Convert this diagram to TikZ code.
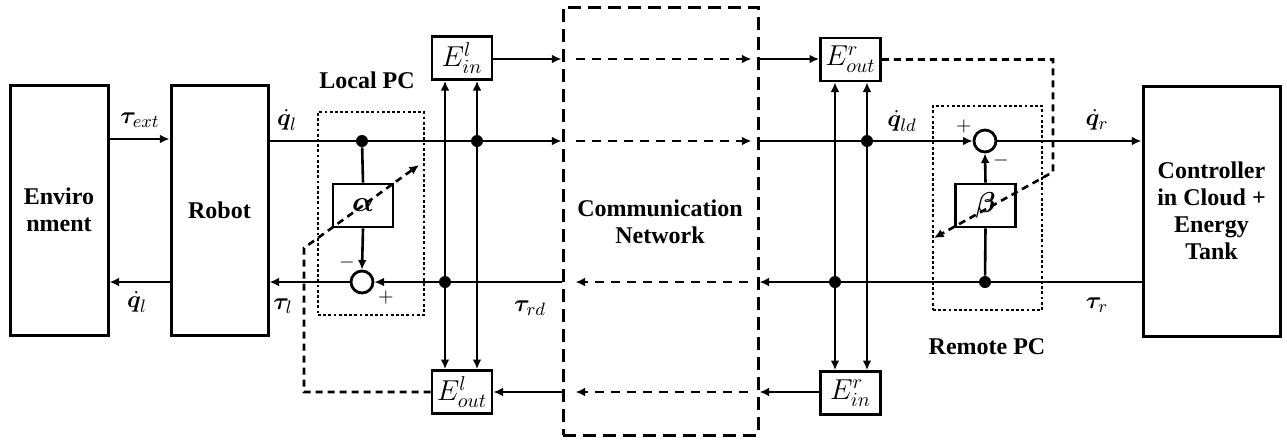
\documentclass[tikz,border=0pt]{standalone}
\usepackage{amsmath,bm}
\usepackage{fontspec}
\setmainfont{Liberation Serif}
\usetikzlibrary{arrows.meta,calc}
\begin{document}
\begin{tikzpicture}[x=0.5pt,y=-0.5pt,
  every node/.style={font=\fontsize{13}{15}\selectfont},
  blk/.style={draw,line width=1.5pt,inner sep=0pt,align=center,font=\fontsize{12}{13.5}\selectfont\bfseries},
  ebox/.style={draw,line width=1.4pt,inner sep=0pt,minimum width=30pt,minimum height=21.5pt,font=\fontsize{14}{16}\selectfont},
  sum/.style={draw,circle,line width=1.4pt,minimum size=11pt,inner sep=0pt},
  dot/.style={circle,fill,inner sep=0pt,minimum size=6pt},
  ln/.style={line width=1.3pt},
  arr/.style={line width=1.3pt,-{Latex[length=4.8pt,width=4.4pt]}},
  darr/.style={line width=1.3pt,{Latex[length=4.8pt,width=4.4pt]}-{Latex[length=4.8pt,width=4.4pt]}},
  netarr/.style={line width=1.3pt,dash pattern=on 4.5pt off 3.5pt,-{Latex[length=4.8pt,width=4.4pt]}},
  adj/.style={line width=1.3pt,dash pattern=on 3.5pt off 2.5pt},
  adjarr/.style={adj,-{Latex[length=4.8pt,width=4.4pt]}},
  pcbox/.style={line width=1.3pt,dash pattern=on 1.4pt off 1.2pt},
  lbl/.style={font=\fontsize{12}{13.5}\selectfont\bfseries},
  sgn/.style={font=\fontsize{10}{12}\selectfont}
]
\useasboundingbox (0,0) rectangle (1287,441);

% row coordinates
\coordinate (rT) at (0,59);
\coordinate (rQ) at (0,141);
\coordinate (rF) at (0,282);
\coordinate (rB) at (0,392);
\coordinate (xL1) at (445,0);
\coordinate (xL2) at (477,0);
\coordinate (xR1) at (835,0);
\coordinate (xR2) at (867,0);

% main blocks
\node[blk,minimum width=49pt,minimum height=125pt] (env) at (59,210) {Enviro\\nment};
\node[blk,minimum width=48.5pt,minimum height=125pt] (robot) at (219.5,210) {Robot};
\node[blk,minimum width=68.5pt,minimum height=125pt] (ctrl) at (1211.5,211) {Controller\\in Cloud +\\Energy\\Tank};

% network
\node[draw,line width=1.5pt,dash pattern=on 6.5pt off 3.5pt,minimum width=97.5pt,minimum height=214pt,inner sep=0pt] (net) at (660.5,221) {};
\node[lbl,align=center] (nettxt) at (660,222) {Communication\\Network};

% PC boxes
\node[draw,pcbox,minimum width=53pt,minimum height=101.5pt,inner sep=0pt] (pcL) at (371,213.5) {};
\node[draw,pcbox,minimum width=54.5pt,minimum height=102pt,inner sep=0pt] (pcR) at (987.5,208) {};
\node[lbl] (pcLt) at (367,80) {Local PC};
\node[lbl] (pcRt) at (987,347) {Remote PC};

% energy boxes
\node[ebox] (Einl) at (462,58) {$E_{in}^{l}$};
\node[ebox] (Eoutl) at (462,392) {$E_{out}^{l}$};
\node[ebox] (Eoutr) at (850.5,59.5) {$E_{out}^{r}$};
\node[ebox] (Einr) at (850.5,393) {$E_{in}^{r}$};

% alpha / beta
\node[ebox] (alpha) at (363,205.5) {$\bm{\alpha}$};
\node[ebox] (beta) at (985.5,205.5) {$\bm{\beta}$};

% summing junctions
\node[sum] (sumL) at (362,282) {};
\node[sum] (sumR) at (985,141) {};

% dots
\node[dot] (d1) at (362,141) {};
\node[dot] (d2) at (477,141) {};
\node[dot] (d3) at (445,282) {};
\node[dot] (d4) at (867,141) {};
\node[dot] (d5) at (835,282) {};
\node[dot] (d6) at (985,282) {};

% env <-> robot
\draw[arr] (env.east|-0,139) -- (robot.west|-0,139);
\draw[arr] (robot.west|-rF) -- (env.east|-rF);

% local side
\draw[ln] (robot.east|-rQ) -- (d1) -- (d2);
\draw[arr] (d2) -- (net.west|-rQ);
\draw[arr] (Einl.east|-rT) -- (net.west|-rT);
\draw[ln] (net.west|-rF) -- (d3);
\draw[arr] (d3) -- (sumL.east);
\draw[arr] (sumL.west) -- (robot.east|-rF);
\draw[arr] (net.west|-rB) -- (Eoutl.east|-rB);
\draw[ln] (d1) -- (alpha.north);
\draw[arr] (alpha.south) -- (sumL.north);
\draw[darr] (Einl.south-|xL1) -- (Eoutl.north-|xL1);
\draw[darr] (Einl.south-|xL2) -- (Eoutl.north-|xL2);

% network internal dashed arrows
\draw[netarr] ($(net.west|-rT)+(14,0)$) -- ($(net.east|-rT)+(-8,0)$);
\draw[netarr] ($(net.west|-rQ)+(14,0)$) -- ($(net.east|-rQ)+(-8,0)$);
\draw[netarr] ($(net.east|-rF)+(-12,0)$) -- ($(net.west|-rF)+(14,0)$);
\draw[netarr] ($(net.east|-rB)+(-12,0)$) -- ($(net.west|-rB)+(14,0)$);

% remote side
\draw[arr] (net.east|-rT) -- (Eoutr.west|-rT);
\draw[ln] (net.east|-rQ) -- (d4);
\draw[arr] (d4) -- (sumR.west);
\draw[arr] (sumR.east) -- (ctrl.west|-rQ);
\draw[ln] (ctrl.west|-rF) -- (d6) -- (d5);
\draw[arr] (d5) -- (net.east|-rF);
\draw[arr] (Einr.west|-rB) -- (net.east|-rB);
\draw[ln] (d6) -- (beta.south);
\draw[arr] (beta.north) -- (sumR.south);
\draw[darr] (Eoutr.south-|xR1) -- (Einr.north-|xR1);
\draw[darr] (Eoutr.south-|xR2) -- (Einr.north-|xR2);

% adjustment dashed paths
\coordinate (aL1) at (304,392);
\coordinate (aL2) at (304,248);
\coordinate (aL3) at (419,165);
\draw[adjarr] (Eoutl.west) -- (aL1) -- (aL2) -- (aL3);
\coordinate (aR1) at (1053,59.5);
\coordinate (aR2) at (1053,172);
\coordinate (aR3) at (934,238);
\draw[adjarr] (Eoutr.east) -- (aR1) -- (aR2) -- (aR3);

% signal labels
\node (l1) at (140,120) {$\bm{\tau}_{ext}$};
\node (l2) at (137,302) {$\dot{\bm{q}}_{l}$};
\node (l3) at (287,120) {$\dot{\bm{q}}_{l}$};
\node (l4) at (283,306) {$\bm{\tau}_{l}$};
\node (l5) at (530,308) {$\bm{\tau}_{rd}$};
\node (l6) at (902,121) {$\dot{\bm{q}}_{ld}$};
\node (l7) at (1097,120) {$\dot{\bm{q}}_{r}$};
\node (l8) at (1097,305) {$\bm{\tau}_{r}$};

% signs
\node[sgn] (s1) at (347,262) {$-$};
\node[sgn] (s2) at (386,297) {$+$};
\node[sgn] (s3) at (964,126) {$+$};
\node[sgn] (s4) at (1001,160) {$-$};
\end{tikzpicture}
\end{document}
